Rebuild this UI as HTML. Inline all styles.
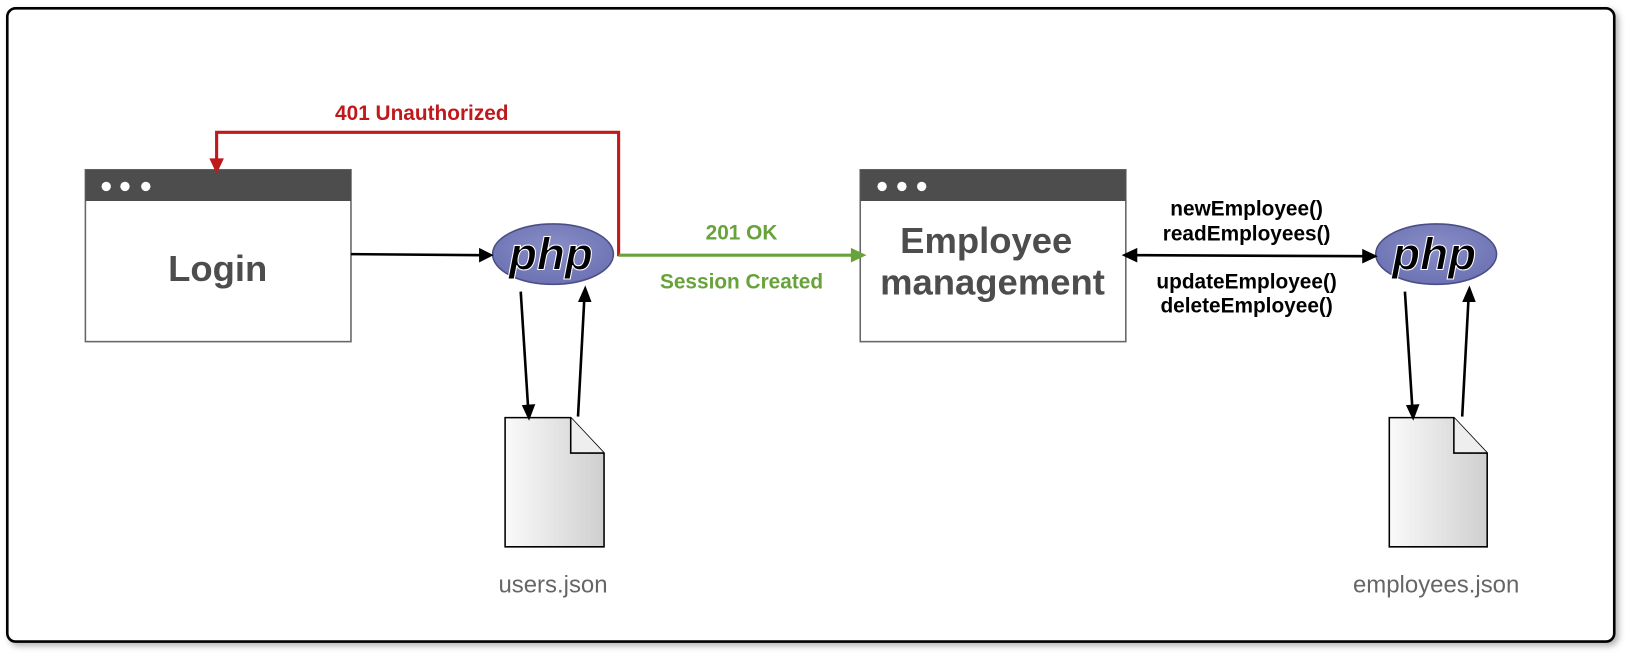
<!DOCTYPE html>
<html><head><style>body{margin:0;background:#fff}svg{display:block}</style></head><body>
<svg width="1633" height="667" viewBox="0 0 1568 640.4" preserveAspectRatio="none" xmlns="http://www.w3.org/2000/svg" font-family="Liberation Sans, sans-serif">
<defs>
<linearGradient id="fg" x1="0" x2="1"><stop offset="0" stop-color="#fafafa"/><stop offset="1" stop-color="#cfcfcf"/></linearGradient>
<radialGradient id="pg" cx="0.5" cy="0.4" r="0.6"><stop offset="0" stop-color="#8a8fc7"/><stop offset="1" stop-color="#6c72b3"/></radialGradient>
<filter id="sh"><feDropShadow dx="3" dy="3" stdDeviation="3" flood-opacity="0.3"/></filter>
</defs>
<rect x="7" y="8" width="1543" height="608" rx="8" fill="#fff" stroke="#000" stroke-width="2.5" filter="url(#sh)"/>
<rect x="82" y="163" width="255" height="165" fill="#fff" stroke="#666" stroke-width="1.5"/>
<rect x="82" y="163" width="255" height="30" fill="#4d4d4d"/>
<circle cx="102" cy="179" r="4.5" fill="#fff"/><circle cx="120" cy="179" r="4.5" fill="#fff"/><circle cx="140" cy="179" r="4.5" fill="#fff"/>
<text x="209" y="270" font-size="35" font-weight="bold" fill="#4d4d4d" text-anchor="middle">Login</text>
<rect x="826" y="163" width="255" height="165" fill="#fff" stroke="#666" stroke-width="1.5"/>
<rect x="826" y="163" width="255" height="30" fill="#4d4d4d"/>
<circle cx="847" cy="179" r="4.5" fill="#fff"/><circle cx="866" cy="179" r="4.5" fill="#fff"/><circle cx="885" cy="179" r="4.5" fill="#fff"/>
<text x="947" y="243" font-size="35" font-weight="bold" fill="#4d4d4d" text-anchor="middle">Employee</text>
<text x="953" y="283" font-size="35" font-weight="bold" fill="#4d4d4d" text-anchor="middle">management</text>
<g>
<ellipse cx="531" cy="244" rx="58" ry="29" fill="url(#pg)" stroke="#4c4f86" stroke-width="1.5"/>
<text x="529" y="259" font-size="44" font-weight="bold" font-style="italic" fill="#000" stroke="#fff" stroke-width="1" text-anchor="middle">php</text>
</g>
<g>
<ellipse cx="1379" cy="244" rx="58" ry="29" fill="url(#pg)" stroke="#4c4f86" stroke-width="1.5"/>
<text x="1377" y="259" font-size="44" font-weight="bold" font-style="italic" fill="#000" stroke="#fff" stroke-width="1" text-anchor="middle">php</text>
</g>
<path d="M485 401 H548 L580 435 V525 H485 Z" fill="url(#fg)" stroke="#000" stroke-width="1.5"/>
<path d="M548 401 V435 H580" fill="#eee" stroke="#000" stroke-width="1.5"/>
<path d="M1334 401 H1396 L1428 435 V525 H1334 Z" fill="url(#fg)" stroke="#000" stroke-width="1.5"/>
<path d="M1396 401 V435 H1428" fill="#eee" stroke="#000" stroke-width="1.5"/>
<text x="531" y="569" font-size="23" fill="#666" text-anchor="middle">users.json</text>
<text x="1379" y="569" font-size="23" fill="#666" text-anchor="middle">employees.json</text>
<g stroke="#000" stroke-width="2.5" fill="none">
<line x1="337" y1="244" x2="462" y2="245"/>
<line x1="500" y1="280" x2="507" y2="390"/>
<line x1="555" y1="400" x2="561" y2="288"/>
<line x1="1349" y1="280" x2="1356" y2="390"/>
<line x1="1404" y1="400" x2="1410" y2="288"/>
<line x1="1090" y1="245" x2="1310" y2="246"/>
</g>
<g fill="#000">
<path d="M474 245 L460 238 L460 252 Z"/>
<path d="M508 404 L501 389 L514 388 Z"/>
<path d="M562 274 L555 290 L568 290 Z"/>
<path d="M1357 404 L1350 389 L1363 388 Z"/>
<path d="M1411 274 L1404 290 L1417 290 Z"/>
<path d="M1077 245 L1092 238 L1092 252 Z"/>
<path d="M1323 246 L1308 239 L1308 253 Z"/>
</g>
<path d="M594 246 V127 H208 V155" stroke="#c0191c" stroke-width="3" fill="none"/>
<path d="M208 167 L201 152 L215 152 Z" fill="#c0191c"/>
<text x="405" y="115" font-size="20" font-weight="bold" fill="#c0191c" text-anchor="middle">401 Unauthorized</text>
<line x1="594" y1="245" x2="818" y2="245" stroke="#67a33a" stroke-width="3"/>
<path d="M832 245 L817 238 L817 252 Z" fill="#67a33a"/>
<text x="712" y="230" font-size="20" font-weight="bold" fill="#67a33a" text-anchor="middle">201 OK</text>
<text x="712" y="277" font-size="20" font-weight="bold" fill="#67a33a" text-anchor="middle">Session Created</text>
<g font-size="20" font-weight="bold" fill="#000" text-anchor="middle">
<text x="1197" y="207">newEmployee()</text>
<text x="1197" y="231">readEmployees()</text>
<text x="1197" y="277">updateEmployee()</text>
<text x="1197" y="300">deleteEmployee()</text>
</g>
</svg>
</body></html>
